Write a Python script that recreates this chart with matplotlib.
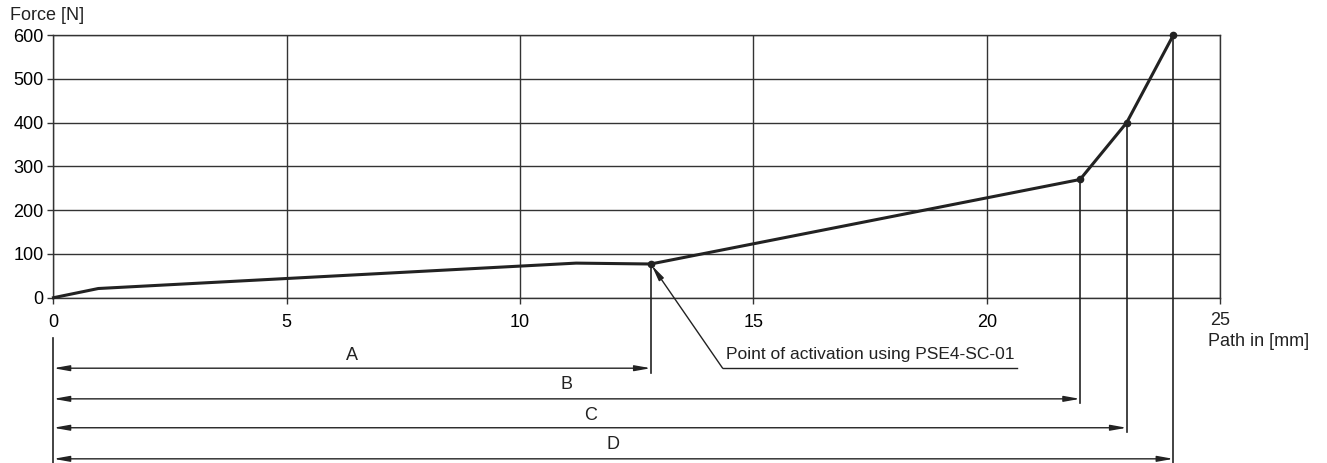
import numpy as np
import matplotlib
matplotlib.use("Agg")
import matplotlib.pyplot as plt

plt.rcParams['font.family'] = ['Liberation Sans', 'DejaVu Sans']

# curve
path_mm = [0, 0.96, 11.2, 12.8, 22.0, 23.0, 24.0]
force_n = [0, 21, 79, 77, 270, 400, 600]
marked = [3, 4, 5, 6]  # points with a dot

# dimension lines A-D
dim_names = ['A', 'B', 'C', 'D']
dim_ends = [12.8, 22.0, 23.0, 24.0]
dim_y = [-161, -231, -297, -368]
dim_label_y = [-131, -199, -268, -336]
drop_to = [-172, -241, -307, -380]

xticks = [0, 5, 10, 15, 20, 25]
yticks = [0, 100, 200, 300, 400, 500, 600]

ink = '#222222'
grid_c = '#333333'
fs = 13

fig = plt.figure(figsize=(13.27, 4.63), dpi=100)
ax = fig.add_axes([0.0403, 0.357, 0.8791, 0.5674])
ax.set_xlim(0, 25)
ax.set_ylim(0, 600)

ax.set_xticks(xticks)
ax.set_yticks(yticks)
ax.set_xticklabels(['0', '5', '10', '15', '20', ''])
ax.tick_params(axis='both', labelsize=fs, color=grid_c, width=1, length=4, pad=8)
ax.tick_params(axis='y', pad=3)
ax.grid(True, color=grid_c, linewidth=1)
for s in ax.spines.values():
    s.set_color(grid_c)
    s.set_linewidth(1)

ax.plot(path_mm, force_n, color=ink, linewidth=2.2, solid_joinstyle='round',
        zorder=5, clip_on=False)
ax.plot([path_mm[i] for i in marked], [force_n[i] for i in marked], 'o',
        color=ink, markersize=4.5, zorder=6, clip_on=False)

# vertical drops from the marked points
for i, x in enumerate(dim_ends):
    y0 = force_n[marked[i]]
    ax.plot([x, x], [y0, drop_to[i]], color=ink, linewidth=1.2, clip_on=False, zorder=4)
ax.plot([0, 0], [-92, -380], color=ink, linewidth=1.2, clip_on=False)

# dimension arrows
for name, xe, yd, yl in zip(dim_names, dim_ends, dim_y, dim_label_y):
    ax.annotate('', xy=(xe, yd), xytext=(0, yd), annotation_clip=False,
                arrowprops=dict(arrowstyle='<|-|>,head_length=0.95,head_width=0.17',
                                color=ink, lw=1.0, shrinkA=0, shrinkB=0, mutation_scale=10))
    ax.text(xe / 2, yl, name, ha='center', va='center', fontsize=fs, color=ink)

# activation note
ax.annotate('', xy=(12.8, 77), xytext=(14.34, -161), annotation_clip=False,
            arrowprops=dict(arrowstyle='-|>,head_length=0.95,head_width=0.17',
                            color=ink, lw=1.0, shrinkA=0, shrinkB=1, mutation_scale=10))
ax.plot([14.34, 20.64], [-161, -161], color=ink, linewidth=1.0, clip_on=False)
ax.text(14.42, -129, 'Point of activation using PSE4-SC-01', ha='left', va='center',
        fontsize=12.5, color=ink)

ax.text(25, -52, '25', ha='center', va='center', fontsize=fs, color=ink, clip_on=False)
ax.text(24.74, -100, 'Path in [mm]', ha='left', va='center', fontsize=fs, color=ink)
fig.text(0.0075, 0.967, 'Force [N]', ha='left', va='center', fontsize=fs, color=ink)

fig.savefig('out.png', dpi=100)
